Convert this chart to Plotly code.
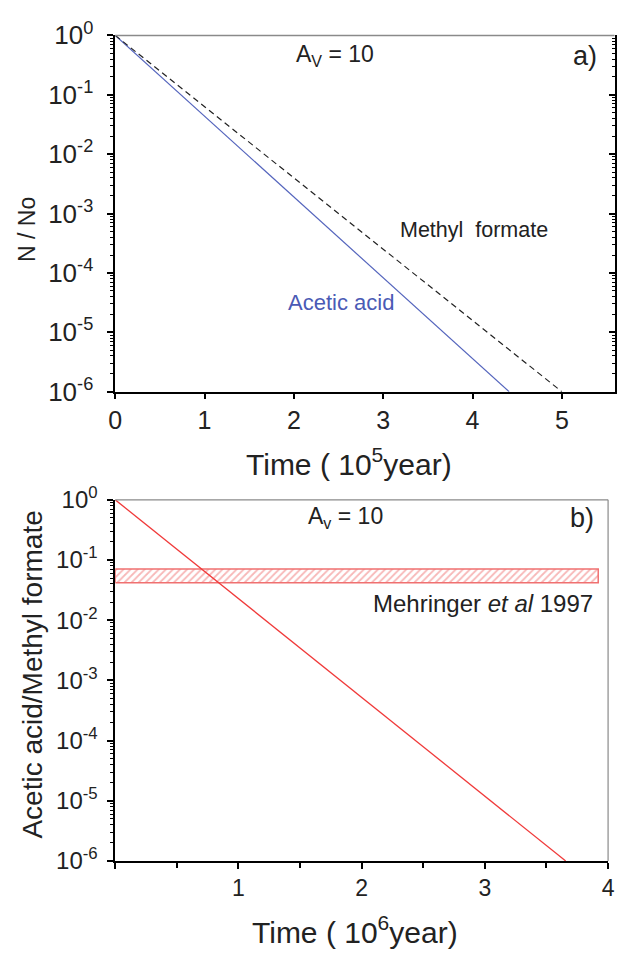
import plotly.graph_objects as go

# ---- data ----
time_acetic = [0.0, 4.41]          # 10^5 year
nn0_acetic = [1.0, 1e-6]
time_methyl = [0.0, 5.0]
nn0_methyl = [1.0, 1e-6]
time_ratio = [0.0, 3.656]          # 10^6 year
ratio_acetic_methyl = [1.0, 1e-6]
band_time = [0.0, 3.92]
band_ratio = [0.042, 0.071]

decades = [-6, -5, -4, -3, -2, -1, 0]
decade_vals = [10.0 ** d for d in decades]
decade_text = ["10<sup>%d</sup>" % d for d in decades]
minor_vals = [m * 10.0 ** d for d in decades[:-1] for m in range(2, 10)]

W, H = 623, 959
FONT = "Liberation Sans, Arial, sans-serif"


def px(x):
    return x / W


def py(y):
    return 1 - y / H


fig = go.Figure()

# Panel a
fig.add_trace(go.Scatter(x=time_acetic, y=nn0_acetic, mode="lines",
                         line=dict(color="#5565bd", width=1.2),
                         xaxis="x", yaxis="y", showlegend=False))
fig.add_trace(go.Scatter(x=time_methyl, y=nn0_methyl, mode="lines",
                         line=dict(color="#222222", width=1.2, dash="6px,4px"),
                         xaxis="x", yaxis="y", showlegend=False))

# Panel b
bx = [band_time[0], band_time[1], band_time[1], band_time[0], band_time[0]]
by = [band_ratio[0], band_ratio[0], band_ratio[1], band_ratio[1], band_ratio[0]]
fig.add_trace(go.Scatter(x=bx, y=by, mode="lines", fill="toself",
                         fillcolor="rgba(0,0,0,0)",
                         fillpattern=dict(shape="/", fgcolor="#f07070",
                                          bgcolor="white", size=5, solidity=0.35),
                         line=dict(color="#f07070", width=1.5),
                         xaxis="x2", yaxis="y2", showlegend=False))
fig.add_trace(go.Scatter(x=time_ratio, y=ratio_acetic_methyl, mode="lines",
                         line=dict(color="#f03a3a", width=1.3),
                         xaxis="x2", yaxis="y2", showlegend=False))

xa_dom = [px(110.7), px(621.5)]
ya_dom = [py(387), py(18)]
xb_dom = [px(110.7), px(614.9)]
yb_dom = [py(873), py(499)]

common_y = dict(type="log", range=[-6, 0], showline=True, linecolor="black",
                linewidth=1.5, ticks="outside", ticklen=6, tickwidth=1.5,
                tickcolor="black", tickvals=decade_vals, ticktext=decade_text,
                showgrid=False, zeroline=False,
                minor=dict(tickvals=minor_vals, ticks="outside", ticklen=3,
                           tickwidth=1, tickcolor="black"))

fig.update_layout(
    width=W, height=H, margin=dict(l=0, r=0, t=0, b=0),
    paper_bgcolor="white", plot_bgcolor="white",
    font=dict(family=FONT, color="#222222"),
    xaxis=dict(domain=xa_dom, anchor="y", range=[0, 5.59], showline=True,
               linecolor="black", linewidth=1.5, ticks="outside", ticklen=6,
               tickwidth=1.5, tickcolor="black", tickvals=[0, 1, 2, 3, 4, 5],
               tickfont=dict(size=25, color="#222"), showgrid=False, zeroline=False),
    yaxis=dict(domain=ya_dom, anchor="x", tickfont=dict(size=26, color="#222"),
               ticklabelstandoff=9, **common_y),
    yaxis3=dict(domain=ya_dom, anchor="x", overlaying="y", side="right",
                type="log", range=[-6, 0], showline=True, linecolor="black",
                linewidth=1.5, ticks="inside", ticklen=6, tickwidth=1.5,
                tickcolor="black", tickvals=decade_vals, showticklabels=False,
                showgrid=False, zeroline=False,
                minor=dict(tickvals=minor_vals, ticks="inside", ticklen=3,
                           tickwidth=1, tickcolor="black")),
    xaxis2=dict(domain=xb_dom, anchor="y2", range=[0, 4], showline=True,
                linecolor="black", linewidth=1.5, ticks="outside", ticklen=6,
                tickwidth=1.5, tickcolor="black", tickvals=[0, 1, 2, 3, 4],
                ticktext=["", "1", "2", "3", "4"],
                tickfont=dict(size=23, color="#222"),
                showgrid=False, zeroline=False,
                minor=dict(tickvals=[0.5, 1.5, 2.5, 3.5], ticks="outside",
                           ticklen=5, tickwidth=1.5, tickcolor="black")),
    yaxis2=dict(domain=yb_dom, anchor="x2", tickfont=dict(size=24, color="#222"),
                ticklabelstandoff=5, **common_y),
)
# dummy trace so yaxis3 renders
fig.add_trace(go.Scatter(x=[None], y=[None], xaxis="x", yaxis="y3",
                         showlegend=False, hoverinfo="skip"))

# top borders (gray) and right border of panel b
fig.add_shape(type="line", xref="paper", yref="paper", x0=xa_dom[0], x1=xa_dom[1],
              y0=ya_dom[1], y1=ya_dom[1], line=dict(color="#8a8a8a", width=1.5))
fig.add_shape(type="line", xref="paper", yref="paper", x0=xb_dom[0], x1=xb_dom[1],
              y0=yb_dom[1], y1=yb_dom[1], line=dict(color="#8a8a8a", width=1.2))
fig.add_shape(type="line", xref="paper", yref="paper", x0=xb_dom[1], x1=xb_dom[1],
              y0=yb_dom[0], y1=yb_dom[1], line=dict(color="#8a8a8a", width=1.2))

C = dict(showarrow=False, xanchor="center", yanchor="middle")
ann = []
# panel a texts
ann.append(dict(x=2.46, y=-0.34, xref="x", yref="y", text="A<sub>V</sub> = 10",
                font=dict(size=23, color="#222"), **C))
ann.append(dict(x=5.26, y=-0.34, xref="x", yref="y", text="a)",
                font=dict(size=27, color="#222"), **C))
ann.append(dict(x=4.02, y=-3.27, xref="x", yref="y", text="Methyl&nbsp; formate",
                font=dict(size=21.5, color="#222"), **C))
ann.append(dict(x=2.53, y=-4.49, xref="x", yref="y", text="Acetic acid",
                font=dict(size=22, color="#4a5ab5"), **C))
# panel b texts
ann.append(dict(x=1.866, y=-0.30, xref="x2", yref="y2", text="A<sub>v</sub> = 10",
                font=dict(size=23, color="#222"), **C))
ann.append(dict(x=3.786, y=-0.30, xref="x2", yref="y2", text="b)",
                font=dict(size=27, color="#222"), **C))
ann.append(dict(x=3.895, y=-1.72, xref="x2", yref="y2", xanchor="right",
                yanchor="middle", text="Mehringer <i>et al</i> 1997",
                showarrow=False, font=dict(size=24, color="#222")))
# axis titles
ann.append(dict(x=px(21), y=py(219), xref="paper", yref="paper", text="N / No",
                textangle=-90, font=dict(size=23, color="#222"), **C))
ann.append(dict(x=px(349.5), y=py(460), xref="paper", yref="paper",
                text="Time ( 10<sup>5</sup>year)",
                font=dict(size=30, color="#222"), **C))
ann.append(dict(x=px(26.6), y=py(680), xref="paper", yref="paper",
                text="Acetic acid/Methyl formate", textangle=-90,
                font=dict(size=28, color="#222"), **C))
ann.append(dict(x=px(355.7), y=py(945), xref="paper", yref="paper",
                text="Time ( 10<sup>6</sup>year)",
                font=dict(size=30, color="#222"), **C))
fig.update_layout(annotations=ann)

fig.write_html("out.html")
